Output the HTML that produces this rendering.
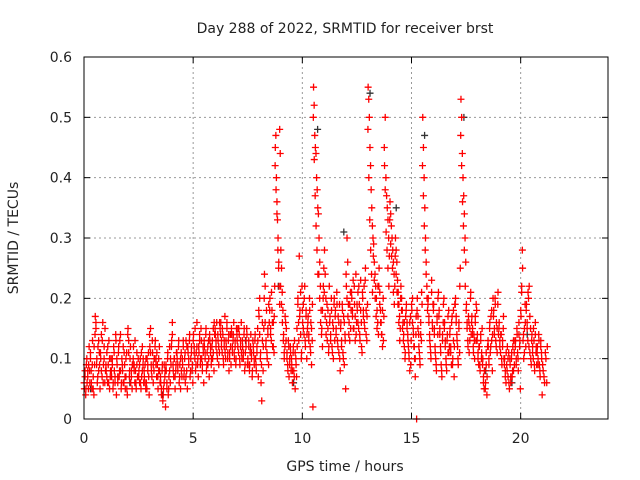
<!DOCTYPE html>
<html><head><meta charset="utf-8">
<style>
html,body{margin:0;padding:0;background:#fff;}
svg{display:block;font-family:"DejaVu Sans","Liberation Sans",sans-serif;}
</style></head>
<body>
<svg id="chart" width="640" height="480" viewBox="0 0 640 480" xmlns="http://www.w3.org/2000/svg">
<text x="345" y="33" font-size="14" text-anchor="middle" fill="#222">Day 288 of 2022, SRMTID for receiver brst</text>
<text x="345" y="471" font-size="14" text-anchor="middle" fill="#222">GPS time / hours</text>
<text x="18" y="238" font-size="14" text-anchor="middle" fill="#222" transform="rotate(-90 18 238)">SRMTID / TECUs</text>
<g id="grid"></g>
<g id="ticks"></g>
<g id="marks"></g>
<rect x="84" y="57" width="524" height="362" fill="none" stroke="#000" stroke-width="1"/>
</svg>
<script>
const xTicks=[0,5,10,15,20];
const yTicks=[0,0.1,0.2,0.3,0.4,0.5,0.6];
const yTickLabels=["0","0.1","0.2","0.3","0.4","0.5","0.6"];
const binStart=0, binWidth=0.25;
// values per 0.25h bin, in hundredths of TECU
const binValues=[
[5,7,4,9,6,8,5,12],[6,10,8,5,13,7,4,9],[17,15,9,6,12,8,11,5],[10,14,7,16,9,12,6,8],
[8,11,6,9,13,5,7,10],[7,9,5,12,8,6,14,4],[9,6,11,7,13,8,5,10],[8,12,6,9,5,7,11,4],
[15,13,7,10,6,8,5,9],[12,9,6,8,5,11,7,10],[8,6,10,5,7,12,9,6],[7,9,5,6,10,8,11,4],
[12,15,9,7,11,6,8,10],[13,10,7,9,5,8,12,6],[6,4,8,3,5,9,7,2],[8,5,10,4,7,12,6,9],
[13,16,9,7,10,5,8,11],[10,8,12,6,9,5,11,7],[9,12,7,10,6,13,8,5],[11,9,13,7,10,12,8,6],
[14,12,10,8,11,16,9,7],[11,13,9,15,10,8,12,6],[12,10,14,8,11,9,13,7],[13,11,9,12,10,15,8,14],
[14,12,16,10,13,9,11,15],[16,13,11,14,9,12,17,10],[12,15,10,13,8,11,14,9],[14,11,13,16,10,12,9,15],
[13,15,11,14,9,12,16,10],[12,10,14,8,11,13,15,9],[9,12,8,11,14,10,7,13],[11,9,13,10,8,12,15,7],
[17,20,10,6,3,13,8,15],[24,22,12,18,10,14,9,16],[20,15,13,18,12,16,11,22],[45,47,40,36,33,30,25,22,48,44],
[28,25,21,18,14,10,12,16],[15,11,9,13,7,10,12,8],[9,6,11,8,13,5,10,7],[12,20,16,27,18,14,10,22],
[16,19,14,22,12,18,10,15],[17,14,20,12,16,9,13,2],[55,52,47,45,44,40,38,35,34],[30,26,22,18,15,12,20,25],
[28,24,20,16,13,18,11,22],[17,14,20,12,16,10,19,13],[18,15,21,13,17,11,19,8],[16,13,19,11,17,9,14,5],
[22,30,26,19,16,13,21,18],[20,17,23,15,19,13,24,16],[18,21,15,19,13,23,16,11],[20,17,22,15,25,18,13,19],
[55,53,50,45,42,38,35,32,30],[29,26,24,22,20,18,16,14],[25,21,18,16,14,12,20,17],[42,50,40,37,35,33,30,27],
[36,34,32,30,28,26,24,22],[30,28,26,23,21,19,17,15],[22,20,18,16,14,12,10,17],[19,16,14,12,10,8,17,13],
[18,20,15,12,10,7,14,0],[20,17,14,11,9,16,13,19],[50,45,40,35,30,26,22,18],[20,17,14,12,10,23,16,19],
[19,15,12,10,8,17,14,21],[18,15,12,9,7,14,16,20],[16,13,10,8,14,11,18,12],[15,12,9,17,10,13,7,19],
[20,17,14,12,9,16,11,25],[53,50,44,40,37,34,30,26],[19,16,13,17,11,15,20,14],[17,15,12,14,10,16,13,18],
[14,11,9,12,8,13,10,15],[10,7,5,8,6,9,4,12],[12,9,15,11,17,13,8,20],[18,15,20,13,16,11,19,14],
[16,13,11,14,9,12,15,10],[10,8,6,9,12,7,11,5],[9,6,10,7,12,8,11,13],[13,10,15,11,8,14,12,5],
[17,22,28,13,10,15,19,12],[19,16,13,20,22,11,15,9],[14,12,10,13,8,16,11,9],[12,10,14,9,7,13,11,4],
[8,6,10,12]
];
// second satellite group, same bins
const binValues2=[
[6,8,5,10,7,9],[8,11,6,9,5,12],[14,16,10,7,13,9],[11,8,13,6,10,15],
[9,7,12,6,10,8],[8,10,6,11,7,13],[10,7,12,8,14,6],[9,6,11,7,10,5],
[14,11,8,12,7,9],[10,8,13,6,9,7],[7,9,6,11,8,10],[8,6,10,5,9,7],
[14,11,8,13,9,10],[12,9,11,7,10,8],[7,5,9,4,6,8],[9,6,11,5,8,10],
[12,14,8,10,7,9],[11,9,13,7,10,8],[10,13,8,11,7,12],[12,10,14,8,11,9],
[13,11,15,9,12,10],[12,14,10,13,9,11],[13,11,15,9,12,10],[14,12,10,13,11,16],
[15,13,11,14,12,16],[14,12,15,10,13,11],[13,16,11,14,10,12],[15,12,14,11,13,10],
[14,12,15,10,13,11],[13,11,15,9,12,14],[10,13,9,12,11,8],[12,10,14,9,11,13],
[18,14,11,9,16,12],[20,16,13,11,15,19],[18,14,21,16,12,17],[42,38,34,28,26,19],
[22,19,16,13,11,17],[13,10,8,12,9,11],[10,8,12,7,11,9],[15,19,13,17,21,11],
[18,15,20,13,17,14],[16,13,18,11,15,19],[50,43,37,32,28,24],[24,20,16,14,18,22],
[21,17,14,19,15,12],[16,13,18,11,15,20],[17,14,19,12,16,10],[15,12,18,10,16,13],
[24,20,17,14,19,15],[21,18,15,22,17,14],[19,16,22,14,18,12],[21,18,16,23,14,17],
[48,40,33,28,24,21],[27,23,20,17,15,22],[22,19,16,14,18,13],[45,38,31,28,25,22],
[33,29,27,25,21,19],[27,24,21,19,16,13],[20,18,15,13,16,11],[18,15,13,11,16,9],
[19,16,14,12,10,17],[18,15,12,10,14,21],[42,37,32,28,24,20],[19,16,13,11,21,15],
[18,14,11,9,16,20],[17,14,11,8,13,19],[15,12,9,13,17,11],[14,11,16,9,18,12],
[19,16,13,10,15,22],[47,42,36,32,28,22],[18,15,12,16,13,21],[16,14,11,13,17,19],
[13,10,12,9,14,11],[9,6,8,5,11,7],[13,10,16,12,18,14],[17,14,19,12,15,21],
[15,12,14,10,13,17],[9,7,11,8,10,6],[10,7,11,8,13,9],[12,9,14,10,16,13],
[18,21,25,14,11,16],[18,15,21,12,17,10],[13,11,15,9,14,12],[11,9,13,8,12,10],
[9,7,11,6]
];
const blackTimes=[0.3,2.1,3.6,7.4,8.9,9.6,10.7,11.9,13.1,14.3,15.6,17.4,18.4,19.6,20.3];
const blackValues=[0.05,0.06,0.04,0.13,0.22,0.06,0.48,0.31,0.54,0.35,0.47,0.5,0.08,0.06,0.14];

const X0=84,X1=608,Y0=419,Y1=57;
const xs=t=>X0+(t/24)*(X1-X0);
const ys=v=>Y0-(v/0.6)*(Y0-Y1);
const NS="http://www.w3.org/2000/svg";
function mk(tag,attrs,parent){const e=document.createElementNS(NS,tag);for(const k in attrs)e.setAttribute(k,attrs[k]);parent.appendChild(e);return e;}
const grid=document.getElementById('grid'),ticks=document.getElementById('ticks'),marks=document.getElementById('marks');

xTicks.forEach((t,i)=>{
  const x=xs(t);
  if(t>0){const g=mk('line',{x1:x,x2:x,y1:Y1,y2:Y0,stroke:'#999','stroke-dasharray':'2,3'},grid);
  
  }
  mk('line',{x1:x,x2:x,y1:Y0,y2:Y0-6,stroke:'#000'},ticks);
  mk('line',{x1:x,x2:x,y1:Y1,y2:Y1+6,stroke:'#000'},ticks);
  const lb=mk('text',{x:x,y:Y0+24,'font-size':14,'text-anchor':'middle',fill:'#222'},ticks);
  lb.textContent=String(t);
  
  
});
yTicks.forEach((v,i)=>{
  const y=ys(v);
  if(v>0&&v<0.6){const g=mk('line',{x1:X0,x2:X1,y1:y,y2:y,stroke:'#999','stroke-dasharray':'2,3'},grid);
  
  }
  mk('line',{x1:X0,x2:X0+6,y1:y,y2:y,stroke:'#000'},ticks);
  mk('line',{x1:X1,x2:X1-6,y1:y,y2:y,stroke:'#000'},ticks);
  const lb=mk('text',{x:X0-12,y:y+5,'font-size':14,'text-anchor':'end',fill:'#222'},ticks);
  lb.textContent=yTickLabels[i];
  
  
});
function plus(t,v,color){
  const x=xs(t),y=ys(v);
  const p=mk('path',{d:`M${x-3.5},${y}H${x+3.5}M${x},${y-3.5}V${y+3.5}`,stroke:color,'stroke-width':1.3,fill:'none'},marks);
  
  
}
blackTimes.forEach((t,i)=>plus(t,blackValues[i],'#333'));
function drawBins(bins,offset){
  bins.forEach((arr,b)=>{
    arr.forEach((val,j)=>{
      const t=binStart+b*binWidth+((j+offset)/arr.length)*binWidth;
      plus(t,val/100,'#f00');
    });
  });
}
drawBins(binValues,0.5);
drawBins(binValues2,0.1);
</script>
</body></html>
